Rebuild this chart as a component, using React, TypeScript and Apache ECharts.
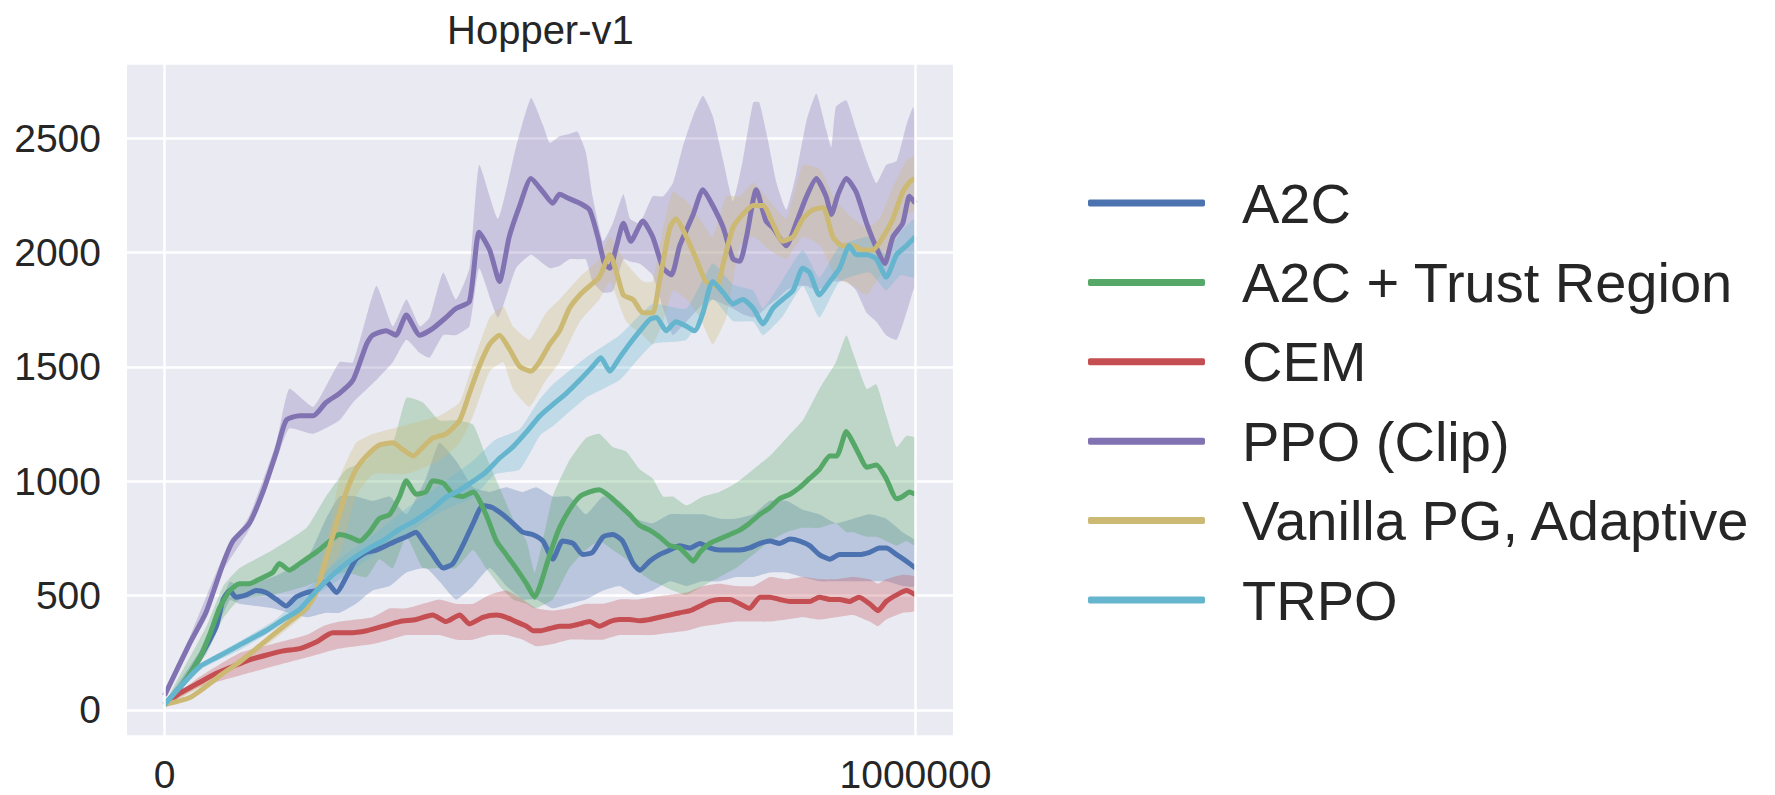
import React, { useEffect, useRef } from 'react';
import * as echarts from 'echarts';

// x values are in thousands of timesteps
const STEP_UNIT = 1000;
const TITLE = 'Hopper-v1';
const seriesNames = ['A2C', 'A2C + Trust Region', 'CEM', 'PPO (Clip)', 'Vanilla PG, Adaptive', 'TRPO'];
const seriesColors = ['#4C72B0', '#55A868', '#C44E52', '#8172B2', '#CCB974', '#64B5CD'];
const xTickLabels = [0, 1000000];
const yTickLabels = [0, 500, 1000, 1500, 2000, 2500];

// ---- A2C ----
const a2cMean = [[0,23],[24,112],[47,229],[69,366],[78,483],[87,522],[95,493],[109,503],[122,522],[135,513],[149,483],[162,454],[175,493],[189,513],[202,522],[215,562],[229,513],[242,581],[255,659],[269,689],[282,699],[295,718],[308,738],[322,757],[335,777],[344,738],[357,679],[371,620],[384,640],[397,718],[411,816],[424,894],[437,884],[450,855],[464,816],[477,777],[490,767],[504,738],[517,659],[530,738],[544,728],[557,679],[570,689],[584,757],[597,767],[610,738],[624,640],[633,611],[646,650],[659,679],[673,699],[686,718],[700,708],[713,728],[726,708],[739,699],[753,699],[766,699],[779,708],[793,728],[806,738],[819,728],[833,747],[846,738],[859,718],[872,679],[886,659],[899,679],[912,679],[925,679],[939,689],[952,708],[961,708],[975,679],[988,650],[1000,620]];
const a2cBand = [[0,18,30],[47,200,260],[87,480,560],[100,464,542],[144,444,581],[189,405,659],[215,425,836],[233,425,933],[255,464,933],[277,522,914],[300,542,933],[322,601,855],[348,620,1012],[366,562,1168],[388,483,1090],[411,542,973],[433,620,953],[455,542,973],[477,483,953],[495,483,973],[517,444,933],[539,464,933],[561,483,855],[584,522,933],[606,542,914],[628,503,836],[650,522,816],[673,562,855],[695,542,855],[717,562,855],[739,562,836],[761,581,836],[784,581,855],[806,601,914],[828,601,914],[850,581,875],[872,562,855],[894,562,816],[917,562,836],[939,562,855],[961,562,836],[983,542,777],[1000,542,738]];

// ---- A2C + Trust Region ----
const trMean = [[0,23],[24,112],[47,229],[60,327],[73,444],[87,522],[100,552],[113,552],[126,571],[144,601],[153,640],[166,611],[180,640],[193,669],[206,699],[220,738],[233,767],[246,757],[260,738],[273,777],[286,836],[300,855],[313,933],[322,1002],[335,943],[348,953],[357,1002],[371,992],[384,943],[397,933],[411,953],[428,855],[442,738],[455,679],[468,620],[482,552],[493,493],[500,542],[513,679],[526,796],[539,874],[553,933],[566,953],[579,963],[593,933],[606,894],[619,855],[633,806],[646,786],[659,757],[673,718],[686,708],[695,679],[704,650],[713,689],[726,728],[739,747],[753,767],[766,786],[779,816],[793,855],[806,884],[819,923],[833,943],[846,973],[859,1012],[872,1051],[886,1110],[895,1110],[908,1217],[917,1168],[926,1110],[935,1061],[948,1071],[961,1012],[975,923],[983,933],[992,953],[1000,943]];
const trBand = [[0,18,28],[55,240,360],[78,400,540],[100,483,620],[144,503,699],[189,542,796],[215,581,933],[242,601,1051],[269,581,1090],[286,659,1168],[304,620,1168],[322,757,1364],[344,620,1344],[366,620,1266],[388,620,1266],[411,699,1247],[428,620,1110],[446,542,973],[464,483,836],[482,464,738],[493,444,600],[517,483,933],[539,620,1090],[561,699,1188],[579,738,1207],[597,699,1149],[615,659,1129],[633,601,1051],[650,562,1012],[664,542,933],[677,522,933],[695,503,894],[717,542,933],[739,581,953],[761,620,992],[784,679,1051],[806,738,1110],[828,777,1188],[850,796,1266],[872,796,1403],[894,816,1520],[908,777,1638],[917,777,1560],[935,757,1403],[948,757,1423],[961,738,1286],[975,718,1149],[988,738,1198],[1000,718,1188]];

// ---- CEM ----
const cemMean = [[0,23],[20,72],[47,121],[69,160],[91,190],[113,219],[135,239],[158,258],[180,268],[202,297],[224,337],[246,337],[269,346],[291,366],[313,386],[335,395],[357,415],[375,386],[393,415],[406,376],[424,405],[442,415],[455,405],[468,386],[482,366],[491,346],[500,346],[513,356],[526,366],[539,366],[553,376],[566,386],[579,366],[593,386],[606,395],[619,395],[633,390],[646,395],[659,405],[673,415],[686,425],[700,434],[713,454],[726,474],[739,483],[753,483],[766,464],[779,444],[793,493],[806,493],[819,483],[833,474],[846,474],[859,474],[872,493],[886,483],[899,483],[912,474],[925,493],[939,464],[950,434],[961,474],[975,503],[988,522],[1000,503]];
const cemBand = [[0,18,28],[47,100,145],[100,151,249],[144,190,288],[189,229,327],[211,249,366],[233,268,386],[277,288,405],[300,307,444],[322,327,444],[344,327,464],[366,327,483],[388,307,464],[411,307,464],[433,327,503],[455,327,522],[477,307,483],[495,278,444],[517,288,434],[539,307,444],[561,307,464],[584,307,464],[606,327,483],[628,327,483],[650,327,493],[673,337,503],[695,346,513],[717,366,542],[739,376,552],[761,386,542],[784,386,542],[806,386,581],[828,395,571],[850,405,581],[872,395,571],[894,405,571],[917,415,581],[939,386,571],[950,366,552],[961,395,571],[983,425,591],[1000,434,581]];

// ---- PPO (Clip) ----
const ppoMean = [[0,63],[33,288],[55,425],[78,640],[91,738],[113,816],[131,953],[149,1129],[162,1266],[180,1286],[198,1286],[215,1344],[233,1384],[251,1442],[269,1599],[277,1638],[295,1658],[308,1638],[322,1726],[340,1638],[357,1667],[375,1716],[388,1755],[406,1785],[419,2088],[433,2010],[446,1873],[459,2068],[473,2205],[488,2323],[504,2264],[517,2215],[526,2254],[539,2235],[553,2215],[566,2186],[577,2068],[586,1951],[593,1931],[602,2029],[611,2127],[621,2049],[637,2137],[650,2068],[664,1931],[675,1902],[686,2029],[704,2166],[717,2274],[730,2205],[744,2108],[757,1971],[766,1961],[775,2068],[788,2274],[801,2137],[810,2108],[828,2029],[841,2127],[855,2245],[868,2323],[881,2245],[888,2166],[897,2254],[908,2323],[921,2264],[935,2127],[948,2020],[959,1951],[970,2068],[983,2127],[992,2245],[1000,2215]];
const ppoBand = [[0,45,80],[33,265,315],[78,610,670],[113,790,850],[149,1090,1170],[166,1230,1403],[198,1207,1325],[233,1266,1520],[251,1344,1520],[282,1442,1853],[304,1520,1677],[322,1618,1794],[340,1560,1677],[353,1540,1716],[371,1638,1912],[388,1638,1794],[406,1677,1931],[419,1931,2382],[444,1716,2147],[468,1931,2460],[488,1990,2675],[504,1951,2557],[513,1931,2479],[526,1941,2508],[539,1970,2518],[550,1970,2528],[561,1970,2440],[570,1873,2245],[584,1824,2049],[597,1830,2127],[611,1971,2254],[620,1960,2147],[633,1950,2127],[650,1900,2245],[664,1755,2245],[677,1638,2303],[690,1680,2460],[704,1730,2597],[717,1775,2685],[730,1794,2597],[744,1775,2401],[757,1755,2225],[770,1730,2401],[784,1716,2656],[792,1730,2656],[803,1765,2499],[815,1794,2303],[828,1834,2186],[841,1853,2342],[855,1853,2577],[868,1834,2695],[881,1853,2538],[888,1873,2460],[894,1873,2636],[908,1873,2665],[921,1834,2538],[935,1736,2401],[948,1697,2303],[961,1638,2382],[975,1618,2401],[988,1736,2558],[997,1834,2636],[1000,1860,2518]];

// ---- Vanilla PG, Adaptive ----
const vpgMean = [[0,23],[33,53],[55,102],[78,160],[100,209],[122,268],[144,327],[166,385],[189,444],[202,513],[215,660],[229,816],[242,953],[255,1051],[269,1110],[286,1158],[304,1168],[317,1139],[331,1110],[344,1149],[357,1188],[375,1207],[393,1266],[406,1384],[419,1501],[433,1599],[446,1638],[459,1579],[473,1501],[488,1481],[499,1520],[513,1599],[526,1657],[539,1755],[553,1814],[566,1853],[579,1892],[593,1990],[602,1912],[611,1814],[624,1794],[637,1736],[650,1736],[659,1873],[673,2108],[681,2147],[695,2068],[708,1971],[721,1873],[735,1853],[744,1951],[757,2108],[770,2166],[784,2205],[797,2205],[810,2127],[823,2049],[837,2068],[850,2147],[863,2186],[877,2196],[890,2068],[903,2029],[917,2029],[930,2010],[943,2010],[957,2068],[970,2147],[983,2264],[994,2313],[1000,2323]];
const vpgBand = [[0,15,30],[100,195,225],[189,425,465],[215,600,720],[233,679,1012],[255,933,1168],[278,1031,1207],[322,1031,1246],[366,1090,1286],[393,1168,1345],[411,1286,1520],[433,1481,1716],[451,1520,1765],[464,1403,1677],[486,1325,1618],[508,1442,1736],[526,1520,1794],[553,1697,1892],[579,1794,1971],[593,1873,2068],[615,1697,1951],[637,1638,1873],[650,1599,1873],[664,1697,2108],[677,1834,2264],[695,1794,2225],[713,1716,2147],[730,1599,2068],[748,1716,2245],[766,2029,2245],[784,2068,2303],[806,2010,2225],[828,1971,2147],[850,2068,2382],[873,2029,2362],[894,1892,2225],[917,1853,2147],[935,1814,2108],[952,1892,2147],[970,2029,2284],[988,2166,2401],[1000,2186,2421]];

// ---- TRPO ----
const trpoMean = [[0,23],[24,112],[47,190],[69,229],[91,268],[113,307],[135,346],[158,395],[180,440],[202,520],[224,590],[246,650],[269,700],[291,740],[313,790],[335,830],[357,880],[375,930],[393,960],[411,1000],[428,1040],[446,1100],[464,1150],[482,1215],[500,1286],[517,1335],[535,1384],[553,1442],[570,1501],[581,1540],[593,1481],[606,1540],[619,1599],[633,1657],[646,1706],[655,1716],[668,1657],[681,1697],[695,1677],[706,1657],[717,1736],[730,1873],[744,1824],[757,1775],[770,1794],[784,1755],[797,1687],[810,1755],[823,1794],[837,1834],[850,1931],[859,1912],[872,1814],[886,1873],[899,1931],[912,2029],[921,1990],[935,1990],[948,1971],[961,1892],[975,1990],[988,2029],[1000,2068]];
const trpoBand = [[0,18,28],[50,180,205],[100,262,300],[150,360,400],[200,500,560],[233,570,660],[280,680,770],[322,770,880],[370,870,990],[411,930,1090],[440,1030,1180],[473,1051,1227],[500,1200,1360],[517,1240,1423],[561,1364,1540],[606,1442,1638],[650,1599,1775],[695,1618,1755],[730,1794,1951],[757,1700,1860],[784,1697,1834],[797,1638,1755],[823,1720,1880],[850,1853,2010],[872,1716,1890],[899,1873,2029],[939,1912,2068],[961,1834,1990],[980,1900,2090],[1000,1892,2147]];

const meanData = [a2cMean, trMean, cemMean, ppoMean, vpgMean, trpoMean];
const bandData = [a2cBand, trBand, cemBand, ppoBand, vpgBand, trpoBand];

// axis extents (matplotlib-style 5% margins)
const X_MIN = -50000;
const X_MAX = 1050000;
const Y_MIN = -114;
const Y_MAX = 2828;

const FONT = '"Liberation Sans", Arial, Helvetica, sans-serif';
const TEXT_COLOR = '#262626';

function rgba(hex: string, a: number) {
  const n = parseInt(hex.slice(1), 16);
  return `rgba(${(n >> 16) & 255},${(n >> 8) & 255},${n & 255},${a})`;
}

function bandSeries(band: number[][], color: string) {
  return {
    type: 'custom',
    silent: true,
    z: 2,
    clip: true,
    data: band.map(([x, lo, hi]) => [x * STEP_UNIT, lo, hi]),
    encode: { x: 0, y: [1, 2] },
    renderItem: (params: any, api: any) => {
      if (params.dataIndex !== 0) return null;
      const upper = band.map(([x, , hi]) => api.coord([x * STEP_UNIT, hi]));
      const lower = band.map(([x, lo]) => api.coord([x * STEP_UNIT, lo])).reverse();
      return {
        type: 'polygon',
        shape: { points: upper.concat(lower), smooth: 0.15 },
        style: { fill: rgba(color, 0.3), stroke: 'none' },
      };
    },
  };
}

export default function App() {
  const ref = useRef<HTMLDivElement>(null);

  useEffect(() => {
    if (!ref.current) return;
    const chart = echarts.init(ref.current, undefined, { renderer: 'svg' });

    const series: any[] = [];
    // vertical grid lines at the labelled x ticks
    series.push({
      type: 'line',
      data: [],
      silent: true,
      z: 1,
      markLine: {
        silent: true,
        symbol: ['none', 'none'],
        label: { show: false },
        lineStyle: { color: '#ffffff', width: 2.5, type: 'solid' },
        emphasis: { disabled: true },
        data: xTickLabels.map((v) => ({ xAxis: v })),
      },
    });
    bandData.forEach((b, i) => series.push(bandSeries(b, seriesColors[i])));
    meanData.forEach((m, i) =>
      series.push({
        type: 'line',
        name: seriesNames[i],
        data: m.map(([x, y]) => [x * STEP_UNIT, y]),
        showSymbol: false,
        symbol: 'none',
        smooth: 0.2,
        z: 3,
        lineStyle: { width: 5, color: seriesColors[i] },
        itemStyle: { color: seriesColors[i] },
        emphasis: { disabled: true },
      })
    );

    chart.setOption({
      animation: false,
      backgroundColor: '#ffffff',
      textStyle: { fontFamily: FONT },
      title: {
        text: TITLE,
        left: 447,
        top: 10,
        padding: 0,
        textStyle: { fontSize: 40, fontWeight: 'normal', color: TEXT_COLOR, fontFamily: FONT },
      },
      legend: {
        orient: 'vertical',
        left: 1088,
        top: 173,
        padding: 0,
        itemWidth: 117,
        itemHeight: 7,
        itemGap: 19.4,
        icon: 'roundRect',
        selectedMode: false,
        data: seriesNames,
        textStyle: {
          fontSize: 56,
          lineHeight: 60,
          color: TEXT_COLOR,
          fontFamily: FONT,
          padding: [0, 0, 0, 32],
        },
      },
      grid: {
        left: 127,
        right: 822,
        top: 63,
        bottom: 59,
        show: true,
        backgroundColor: '#EAEAF2',
        borderWidth: 0,
        containLabel: false,
        outerBoundsMode: 'none',
      },
      xAxis: {
        type: 'value',
        min: X_MIN,
        max: X_MAX,
        splitNumber: 5,
        axisLine: { show: false },
        axisTick: { show: false },
        splitLine: { show: false },
        axisLabel: {
          fontSize: 39,
          color: TEXT_COLOR,
          fontFamily: FONT,
          margin: 19,
          showMinLabel: false,
          showMaxLabel: false,
          formatter: (v: number) => (xTickLabels.includes(v) ? String(v) : ''),
        },
      },
      yAxis: {
        type: 'value',
        min: Y_MIN,
        max: Y_MAX,
        splitNumber: 6,
        axisLine: { show: false },
        axisTick: { show: false },
        splitLine: { show: true, lineStyle: { color: '#ffffff', width: 2.5 } },
        axisLabel: {
          fontSize: 39,
          color: TEXT_COLOR,
          fontFamily: FONT,
          margin: 26,
          showMinLabel: false,
          showMaxLabel: false,
          formatter: (v: number) => (yTickLabels.includes(v) ? String(v) : ''),
        },
      },
      series,
    });

    return () => chart.dispose();
  }, []);

  return (
    <div
      ref={ref}
      style={{ position: 'fixed', left: 0, top: 0, width: 1775, height: 795 }}
    />
  );
}
